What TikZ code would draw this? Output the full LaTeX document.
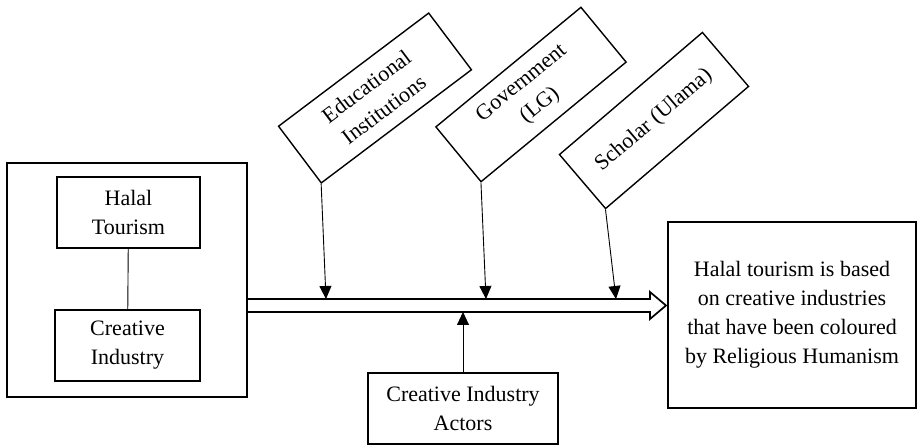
\documentclass[tikz,border=0pt]{standalone}
\usepackage{fontspec}
\setmainfont{Liberation Serif}
\usetikzlibrary{arrows.meta}

\begin{document}
\begin{tikzpicture}[x=1pt, y=1pt, font=\fontsize{22}{29}\selectfont,
    box/.style={draw, line width=1.7pt, align=center, inner sep=0pt},
    tiltbox/.style={box, line width=1.4pt, minimum width=188pt, minimum height=71pt},
    link/.style={line width=0.9pt, -{Triangle[length=13pt, width=12pt]}}]
    \useasboundingbox (0,0) rectangle (918,447);
    % left block
    \node[box, minimum width=240pt, minimum height=234pt] (outer) at (127,167) {};
    \node[box, minimum width=143pt, minimum height=71pt] (ht) at (128.5,234.5) {Halal\\Tourism};
    \node[box, minimum width=145pt, minimum height=71pt] (ci) at (127.5,101.5) {Creative\\Industry};
    \draw[line width=0.9pt] (ht) -- (ci);
    % result
    \node[box, minimum width=248pt, minimum height=186pt] (res) at (792,132)
        {Halal tourism is based\\on creative industries\\that have been coloured\\by Religious Humanism};
    % hollow arrow
    \draw[line width=1.7pt, line join=miter] (outer.east |- 0,148) -- (650,148) -- (650,155) -- (666,141.5)
        -- (650,128) -- (650,135) -- (outer.east |- 0,135);
    % actors
    \node[tiltbox, rotate=37] (edu) at (375,349) {Educational\\Institutions};
    \node[tiltbox, rotate=39.5] (gov) at (531,352.5) {Government\\(LG)};
    \node[tiltbox, rotate=40.5] (sch) at (654,326.5) {Scholar (Ulama)};
    \node[box, minimum width=190pt, minimum height=71pt] (cia) at (463,38.5) {Creative Industry\\Actors};
    \coordinate (eduin) at (326,148);
    \coordinate (govin) at (486,148);
    \coordinate (schin) at (616,148);
    \coordinate (ciain) at (cia.north |- 0,135);
    \draw[link] (edu.south west) -- (eduin);
    \draw[link] (gov.south west) -- (govin);
    \draw[link] (sch.south west) -- (schin);
    \draw[link] (cia.north) -- (ciain);
\end{tikzpicture}
\end{document}
